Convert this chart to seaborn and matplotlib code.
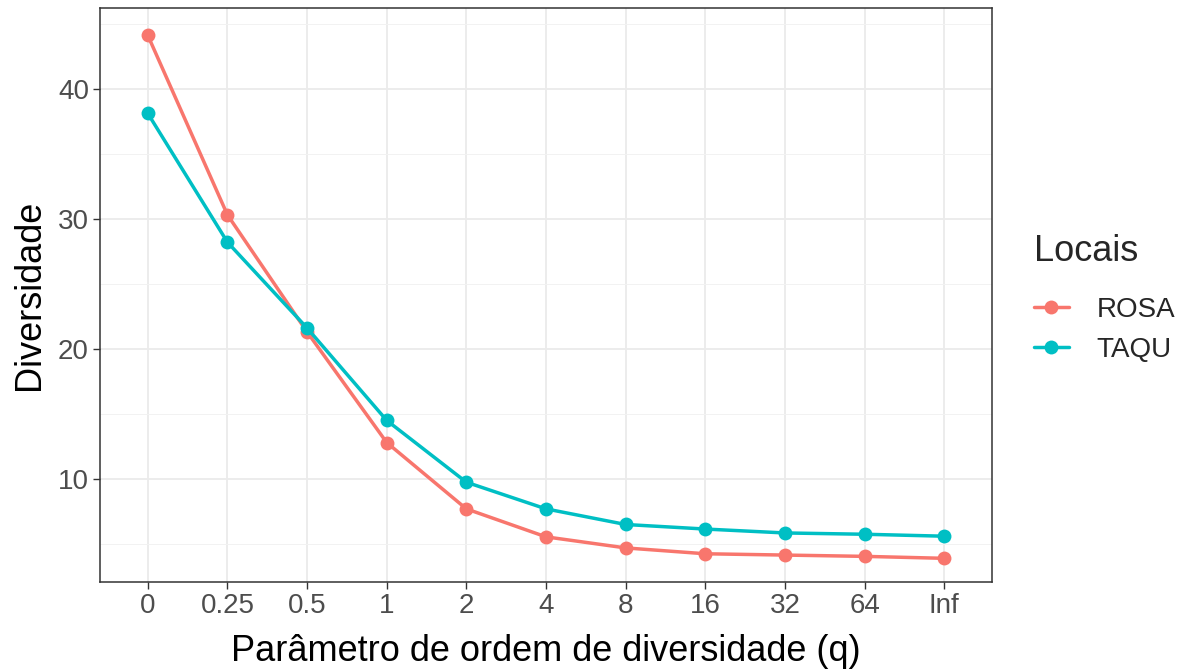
import matplotlib
matplotlib.use("Agg")
import matplotlib.pyplot as plt
import seaborn as sns
import pandas as pd
import numpy as np

q_labels = ["0", "0.25", "0.5", "1", "2", "4", "8", "16", "32", "64", "Inf"]
rosa = [44.1, 30.3, 21.3, 12.8, 7.7, 5.55, 4.7, 4.25, 4.15, 4.05, 3.9]
taqu = [38.1, 28.2, 21.6, 14.5, 9.75, 7.7, 6.5, 6.15, 5.85, 5.75, 5.6]
sites = ["ROSA", "TAQU"]
palette = {"ROSA": "#F8766D", "TAQU": "#00BFC4"}

df = pd.DataFrame({
    "pos": list(range(len(q_labels))) * 2,
    "q": q_labels * 2,
    "Diversidade": rosa + taqu,
    "Locais": [sites[0]] * len(rosa) + [sites[1]] * len(taqu),
})

sns.set_theme(style="white")
plt.rcParams["font.family"] = ["Liberation Sans", "DejaVu Sans"]

fig = plt.figure(figsize=(11.9, 6.69), dpi=100)
ax = fig.add_axes([100 / 1190, 1 - 582 / 669, 892 / 1190, 574 / 669])

sns.lineplot(data=df, x="pos", y="Diversidade", hue="Locais", palette=palette,
             marker="o", markersize=10, markeredgewidth=0, linewidth=2.5,
             ax=ax, zorder=3)

n = len(q_labels)
ax.set_xlim(-0.6, n - 1 + 0.6)
ax.set_ylim(2.08, 46.2)
ax.set_xticks(range(n))
ax.set_xticklabels(q_labels)
ax.set_yticks([10, 20, 30, 40])
ax.set_yticks([5, 15, 25, 35, 45], minor=True)

ax.grid(True, which="major", color="#EBEBEB", linewidth=1.3, zorder=0)
ax.grid(True, which="minor", axis="y", color="#F2F2F2", linewidth=0.7, zorder=0)
ax.set_axisbelow(True)

for s in ax.spines.values():
    s.set_color("#333333")
    s.set_linewidth(1.1)

ax.tick_params(axis="both", which="major", direction="out", length=5, width=1,
               color="#333333", labelcolor="#4D4D4D", labelsize=20, pad=3,
               bottom=True, left=True)
ax.tick_params(axis="both", which="minor", length=0)

ax.set_xlabel("Parâmetro de ordem de diversidade (q)", fontsize=26, color="black", labelpad=11)
ax.set_ylabel("Diversidade", fontsize=26, color="black", labelpad=8)

leg = ax.legend(title="Locais", loc="upper left", bbox_to_anchor=(1.019, 0.65),
                frameon=False, fontsize=20, title_fontsize=26,
                handlelength=1.25, handletextpad=1.0, labelspacing=0.52)
leg._legend_box.align = "left"
leg._legend_box.sep = 20

fig.savefig("out.png", dpi=100)
